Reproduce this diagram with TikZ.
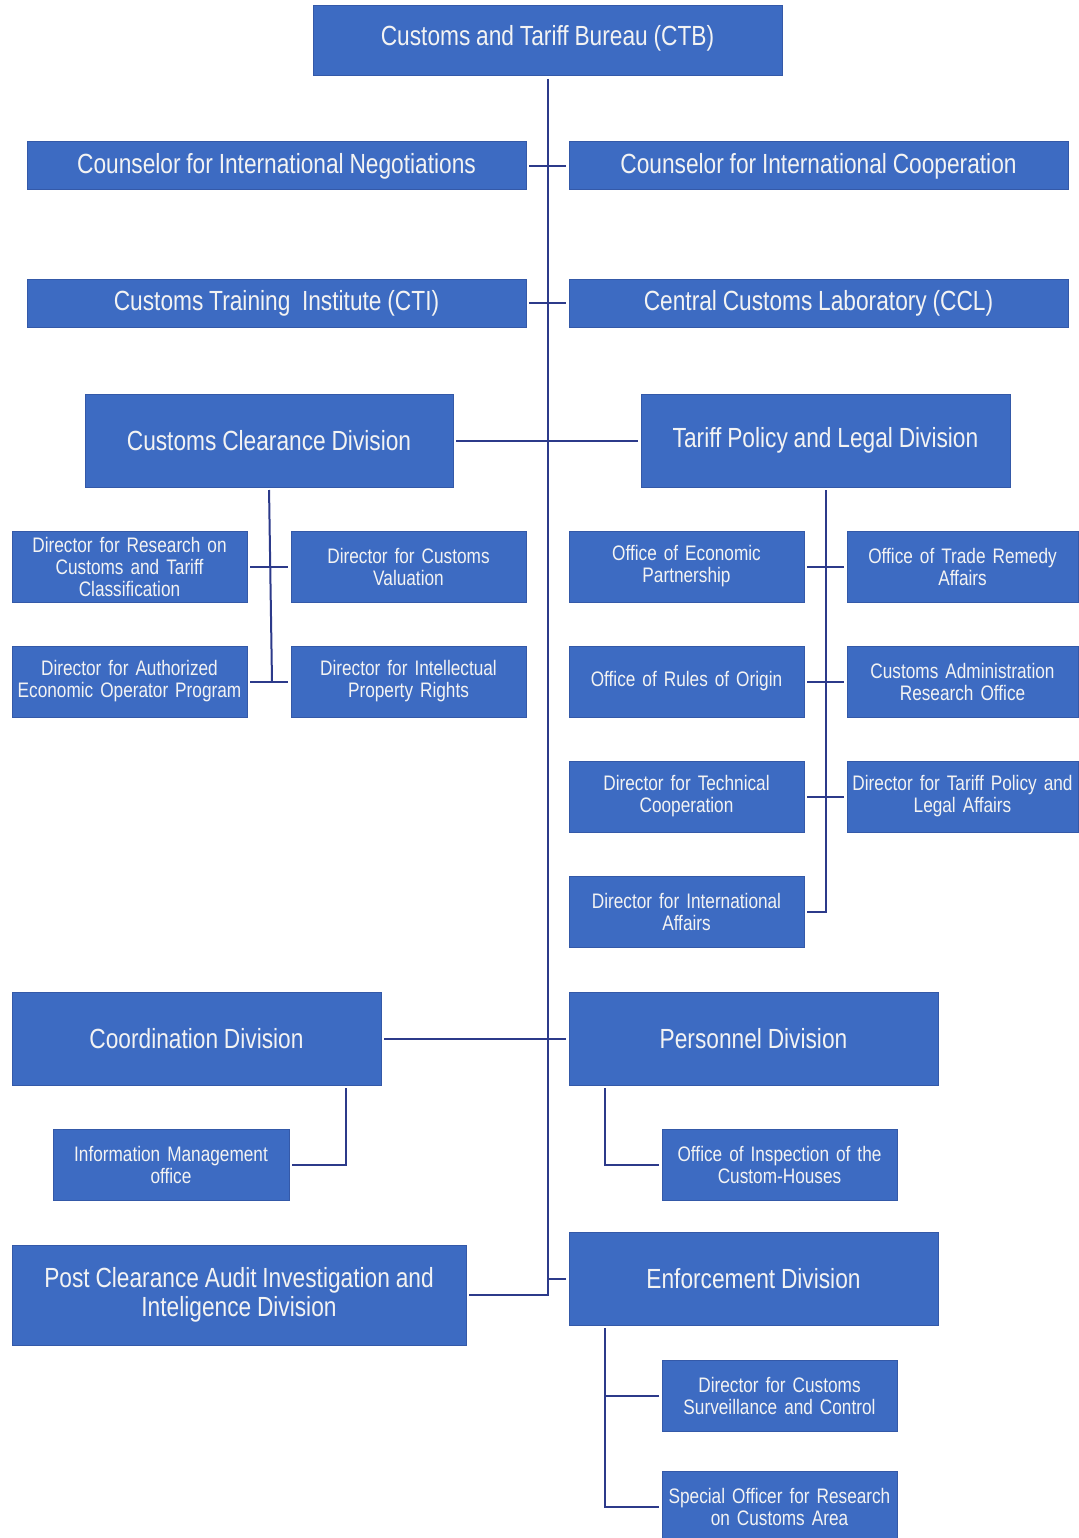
\documentclass[tikz,border=0pt]{standalone}
\usepackage{fontspec}
\setmainfont{Liberation Sans}[FakeStretch=0.82,WordSpace=0.92]
\definecolor{boxblue}{HTML}{3D6BC2}
\definecolor{boxedge}{HTML}{3459A8}
\definecolor{linenavy}{HTML}{2C3A8A}
\definecolor{txtwhite}{HTML}{F3F3F3}
\begin{document}
\begin{tikzpicture}[x=1pt,y=-1pt,
  box/.style={draw=boxedge,line width=1pt,fill=boxblue,text=txtwhite,inner sep=0pt,outer sep=0pt,align=center},
  bigbox/.style={box,font=\fontsize{27.7}{30}\selectfont},
  smallbox/.style={box,minimum width=235pt,minimum height=71pt,text width=232pt,font=\fontsize{21}{22}\selectfont},
  link/.style={draw=linenavy,line width=2pt},
  gap/.style={shorten <=3pt,shorten >=3pt}]
\useasboundingbox (0,0) rectangle (1078,1538);
% top
\node[bigbox,minimum width=469pt,minimum height=70pt] (ctb) at (547.5,41) {\raisebox{12pt}{Customs and Tariff Bureau (CTB)}};
\node[bigbox,minimum width=499pt,minimum height=48pt] (neg) at (276.5,166) {\raisebox{-2pt}{Counselor for International Negotiations}};
\node[bigbox,minimum width=499pt,minimum height=48pt] (coop) at (818.5,166) {\raisebox{-2pt}{Counselor for International Cooperation}};
\node[bigbox,minimum width=499pt,minimum height=48pt] (cti) at (276.5,303) {\raisebox{-2pt}{Customs Training\ \ Institute (CTI)}};
\node[bigbox,minimum width=499pt,minimum height=48pt] (ccl) at (818.5,303) {\raisebox{-2pt}{Central Customs Laboratory (CCL)}};
% divisions
\node[bigbox,minimum width=368pt,minimum height=93pt] (ccd) at (269,440.5) {Customs Clearance Division};
\node[bigbox,minimum width=369pt,minimum height=93pt] (tpl) at (825.5,440.5) {Tariff Policy and Legal Division};
% clearance subs
\node[smallbox] (c1) at (129.5,566.5) {Director for Research on\\Customs and Tariff\\Classification};
\node[smallbox] (c2) at (408.5,566.5) {Director for Customs\\Valuation};
\node[smallbox] (c3) at (129.5,681.5) {Director for Authorized\\Economic Operator Program};
\node[smallbox] (c4) at (408.5,681.5) {Director for Intellectual\\Property Rights};
% tariff subs
\node[smallbox] (t1) at (686.5,566.5) {Office of Economic\\Partnership};
\node[smallbox,minimum width=231pt,text width=229pt] (t2) at (962.5,566.5) {Office of Trade Remedy\\Affairs};
\node[smallbox] (t3) at (686.5,681.5) {Office of Rules of Origin};
\node[smallbox,minimum width=231pt,text width=229pt] (t4) at (962.5,681.5) {Customs Administration\\Research Office};
\node[smallbox] (t5) at (686.5,796.5) {Director for Technical\\Cooperation};
\node[smallbox,minimum width=231pt,text width=229pt] (t6) at (962.5,796.5) {Director for Tariff Policy and\\Legal Affairs};
\node[smallbox] (t7) at (686.5,911.5) {Director for International\\Affairs};
% lower divisions
\node[bigbox,minimum width=369pt,minimum height=93pt] (coord) at (196.5,1038.5) {Coordination Division};
\node[bigbox,minimum width=369pt,minimum height=93pt] (pers) at (753.5,1038.5) {Personnel Division};
\node[smallbox,minimum width=236pt] (info) at (171,1164.5) {Information Management\\office};
\node[smallbox] (insp) at (779.5,1164.5) {Office of Inspection of the\\Custom-Houses};
\node[bigbox,minimum width=454pt,minimum height=100pt,font=\fontsize{27.7}{29}\selectfont] (post) at (239,1295) {Post Clearance Audit Investigation and\\Inteligence Division};
\node[bigbox,minimum width=369pt,minimum height=93pt] (enf) at (753.5,1278.5) {Enforcement Division};
\node[smallbox] (surv) at (779.5,1395.5) {Director for Customs\\Surveillance and Control};
\node[smallbox] (spec) at (779.5,1506.5) {Special Officer for Research\\on Customs Area};
% connectors
\draw[link,shorten <=3pt] (ctb.south) |- ([xshift=3pt]post.east);
\draw[link,gap] (neg.east) -- (coop.west);
\draw[link,gap] (cti.east) -- (ccl.west);
\draw[link,gap] (ccd.east) -- (tpl.west);
\draw[link,gap] (coord.east) -- (pers.west);
\draw[link,shorten <=3pt] (enf.west) -- (enf.west -| ctb.south);
% clearance tree
\draw[link,shorten <=3pt] (ccd.south) -- ([xshift=3pt]ccd.south |- c3.east);
\draw[link,gap] (c1.east) -- (c2.west);
\draw[link,gap] (c3.east) -- (c4.west);
% tariff tree
\draw[link,shorten <=3pt] (tpl.south) |- ([xshift=3pt]t7.east);
\draw[link,gap] (t1.east) -- (t2.west);
\draw[link,gap] (t3.east) -- (t4.west);
\draw[link,gap] (t5.east) -- (t6.west);
% coordination
\coordinate (cv) at ([xshift=-35pt,yshift=-3pt]coord.south east);
\draw[link] (cv) |- ([xshift=3pt]info.east);
% personnel
\coordinate (pv) at ([xshift=36pt,yshift=-3pt]pers.south west);
\draw[link] (pv) |- ([xshift=-3pt]insp.west);
% enforcement
\coordinate (ev) at ([xshift=36pt,yshift=-3pt]enf.south west);
\draw[link] (ev) |- ([xshift=-3pt]spec.west);
\draw[link,shorten <=3pt] (surv.west) -- (surv.west -| ev);
\end{tikzpicture}
\end{document}
